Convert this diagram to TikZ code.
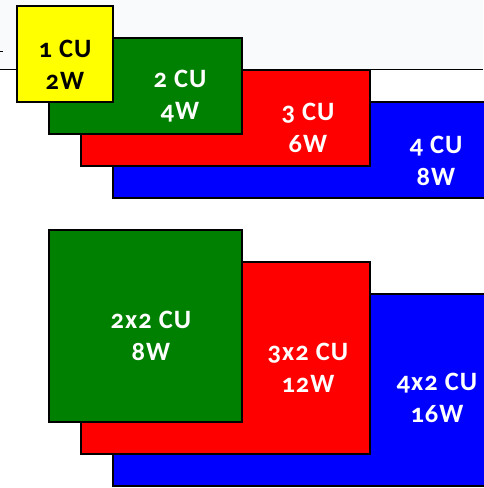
\documentclass[tikz,border=0pt]{standalone}
\usepackage{fontspec}
\setmainfont{Carlito}[Numbers=OldStyle,LetterSpace=4]
\definecolor{pgreen}{RGB}{0,128,0}
\definecolor{pred}{RGB}{255,0,0}
\definecolor{pblue}{RGB}{0,0,255}
\definecolor{pyellow}{RGB}{255,255,0}
\definecolor{bgtop}{RGB}{249,250,252}
\begin{document}
\begin{tikzpicture}[x=1pt,y=-1pt,
  blk/.style={draw=black,line width=2pt},
  lbl/.style={font=\bfseries\fontsize{26.5}{31.5}\selectfont,text=white,align=center,inner sep=0pt},
  lbly/.style={lbl,text=black}]
\useasboundingbox (0,0) rectangle (483,488);
\fill[bgtop] (0,0) rectangle (483,69);
\draw[line width=1.5pt] (0,69.5) -- (483,69.5);
\draw[line width=1pt] (0,51) -- (3,51);
% top row
\draw[blk,fill=pblue] (113,102) rectangle (490,198);
\draw[blk,fill=pred] (81,70) rectangle (370,166);
\draw[blk,fill=pgreen] (49,38) rectangle (242,134);
\draw[blk,fill=pyellow] (17,6) rectangle (113,102);
\node[lbly] (y1) at (65,65) {1 CU\\2W};
\node[lbl] (g1) at (180,96) {2 CU\\4W};
\node[lbl] (r1) at (308,128) {3 CU\\6W};
\node[lbl] (b1) at (436,161) {4 CU\\8W};
% bottom row
\draw[blk,fill=pblue] (113,294) rectangle (490,486);
\draw[blk,fill=pred] (81,262) rectangle (370,454);
\draw[blk,fill=pgreen] (49,230) rectangle (242,422);
\node[lbl] (g2) at (151,336) {2x2 CU\\8W};
\node[lbl] (r2) at (308,368) {3x2 CU\\12W};
\node[lbl] (b2) at (437,398) {4x2 CU\\16W};
\end{tikzpicture}
\end{document}
